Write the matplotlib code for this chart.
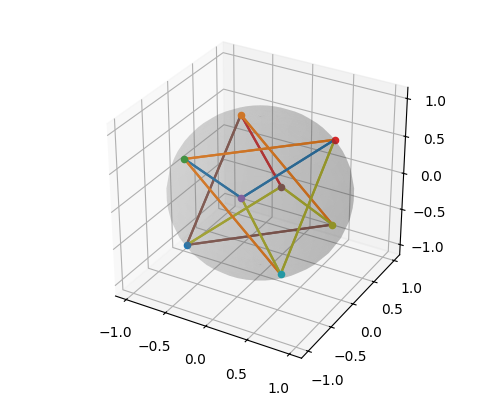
import numpy as np
import matplotlib
matplotlib.use('Agg')
import matplotlib.pyplot as plt

s = 1/np.sqrt(3)
xs = [-s, -s, -s, -s, s, s, s, s]
ys = [-s, -s, s, s, -s, -s, s, s]
zs = [-s, s, -s, s, -s, s, -s, s]
point_colors = ['C0', 'C2', 'C4', 'C1', 'C9', 'C5', 'C8', 'C3']
edge_start = [0, 0, 0, 3, 3, 5, 1, 1, 1, 2, 2, 4]
edge_end = [3, 6, 5, 5, 6, 6, 2, 4, 7, 4, 7, 7]
edge_colors = ['C5', 'C5', 'C8', 'C3', 'C1', 'C8', 'C0', 'C1', 'C1', 'C8', 'C0', 'C8']

u = np.linspace(0, 2*np.pi, 40)
v = np.linspace(0, np.pi, 20)
X = np.outer(np.cos(u), np.sin(v))
Y = np.outer(np.sin(u), np.sin(v))
Z = np.outer(np.ones_like(u), np.cos(v))

fig = plt.figure(figsize=(5, 4), dpi=100)
ax = fig.add_subplot(projection='3d')
ax.set_position([0.125, 0.123, 0.775, 0.77])
ax.set_box_aspect((4.32, 4.32, 3.95), zoom=1.136)
ax.plot_surface(X, Y, Z, color='gray', alpha=0.17, linewidth=0)
for i, j, c in zip(edge_start, edge_end, edge_colors):
    for _ in range(2):
        ax.plot([xs[i], xs[j]], [ys[i], ys[j]], [zs[i], zs[j]], color=c, linewidth=1.6)
for x, y, z, c in zip(xs, ys, zs, point_colors):
    ax.scatter([x], [y], [z], color=c)
fig.savefig('out.png', dpi=100)
